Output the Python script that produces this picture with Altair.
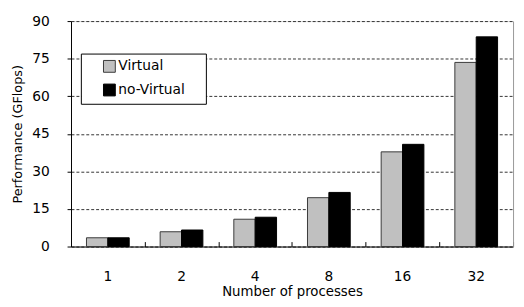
import altair as alt
import pandas as pd

processes = ["1", "2", "4", "8", "16", "32"]
virtual = [3.5, 5.9, 10.9, 19.5, 37.8, 73.5]
no_virtual = [3.5, 6.6, 11.7, 21.6, 40.8, 83.7]
series = ["Virtual", "no-Virtual"]
y_ticks = [0, 15, 30, 45, 60, 75, 90]

rows = []
for p, v, n in zip(processes, virtual, no_virtual):
    rows.append({"procs": p, "series": series[0], "perf": v})
    rows.append({"procs": p, "series": series[1], "perf": n})
df = pd.DataFrame(rows)

FONT = "DejaVu Sans"
W, H = 449, 229
STEP = W / len(processes)

xscale = alt.Scale(domain=processes, paddingInner=0.42, paddingOuter=0.21)
yscale = alt.Scale(domain=[0, 90], nice=False)

bars = alt.Chart(df).mark_bar(strokeWidth=1).encode(
    x=alt.X("procs:N", sort=processes, scale=xscale,
            axis=alt.Axis(title="Number of processes", labelAngle=0, ticks=False,
                          domainColor="black", labelPadding=23, titlePadding=2,
                          labelFontSize=14, titleFontSize=13.5, labelColor="black",
                          titleColor="black", titleFontWeight="normal")),
    xOffset=alt.XOffset("series:N", sort=series),
    y=alt.Y("perf:Q", scale=yscale,
            axis=alt.Axis(title="Performance (GFlops)", values=y_ticks, grid=True,
                          gridColor="#333333", gridDash=[3, 2], gridWidth=1,
                          domainColor="black", tickColor="black", tickSize=4,
                          labelPadding=18, labelFontSize=14, titleFontSize=13,
                          labelColor="black", titleColor="black",
                          titleFontWeight="normal", titlePadding=7)),
    fill=alt.Fill("series:N", sort=series,
                  scale=alt.Scale(domain=series, range=["#c0c0c0", "#000000"]),
                  legend=alt.Legend(title=None, orient="none", legendX=10, legendY=33,
                                    strokeColor="black", fillColor="white", padding=6,
                                    symbolType="square", symbolSize=144,
                                    symbolStrokeColor="black", symbolStrokeWidth=1,
                                    symbolOffset=16, labelOffset=2, rowPadding=8,
                                    labelFontSize=14, labelColor="black",
                                    labelExpr="datum.label + '\u00a0\u2800'")),
    stroke=alt.Stroke("series:N", sort=series,
                      scale=alt.Scale(domain=series, range=["#3a3a3a", "#000000"]),
                      legend=None),
)

frame = alt.Chart(df).mark_bar(opacity=0).encode(
    x=alt.X("procs:N", sort=processes, scale=xscale,
            axis=alt.Axis(title=None, labels=False, domain=False, ticks=True,
                          tickColor="black", tickSize=5, tickOffset=STEP / 2,
                          tickWidth=1, offset=-5, orient="bottom")),
    xOffset=alt.XOffset("series:N", sort=series),
    y=alt.Y("perf:Q", scale=yscale,
            axis=alt.Axis(title=None, labels=False, ticks=False, grid=False,
                          domainColor="#999999", orient="right")),
)

chart = alt.layer(bars, frame).resolve_axis(x="independent", y="independent").properties(
    width=W, height=H, autosize="none",
    padding={"left": 64, "top": 11, "right": 3, "bottom": 51},
).configure_view(stroke=None).configure(font=FONT)

chart.save("out.html", embed_options={"renderer": "svg", "actions": False})
